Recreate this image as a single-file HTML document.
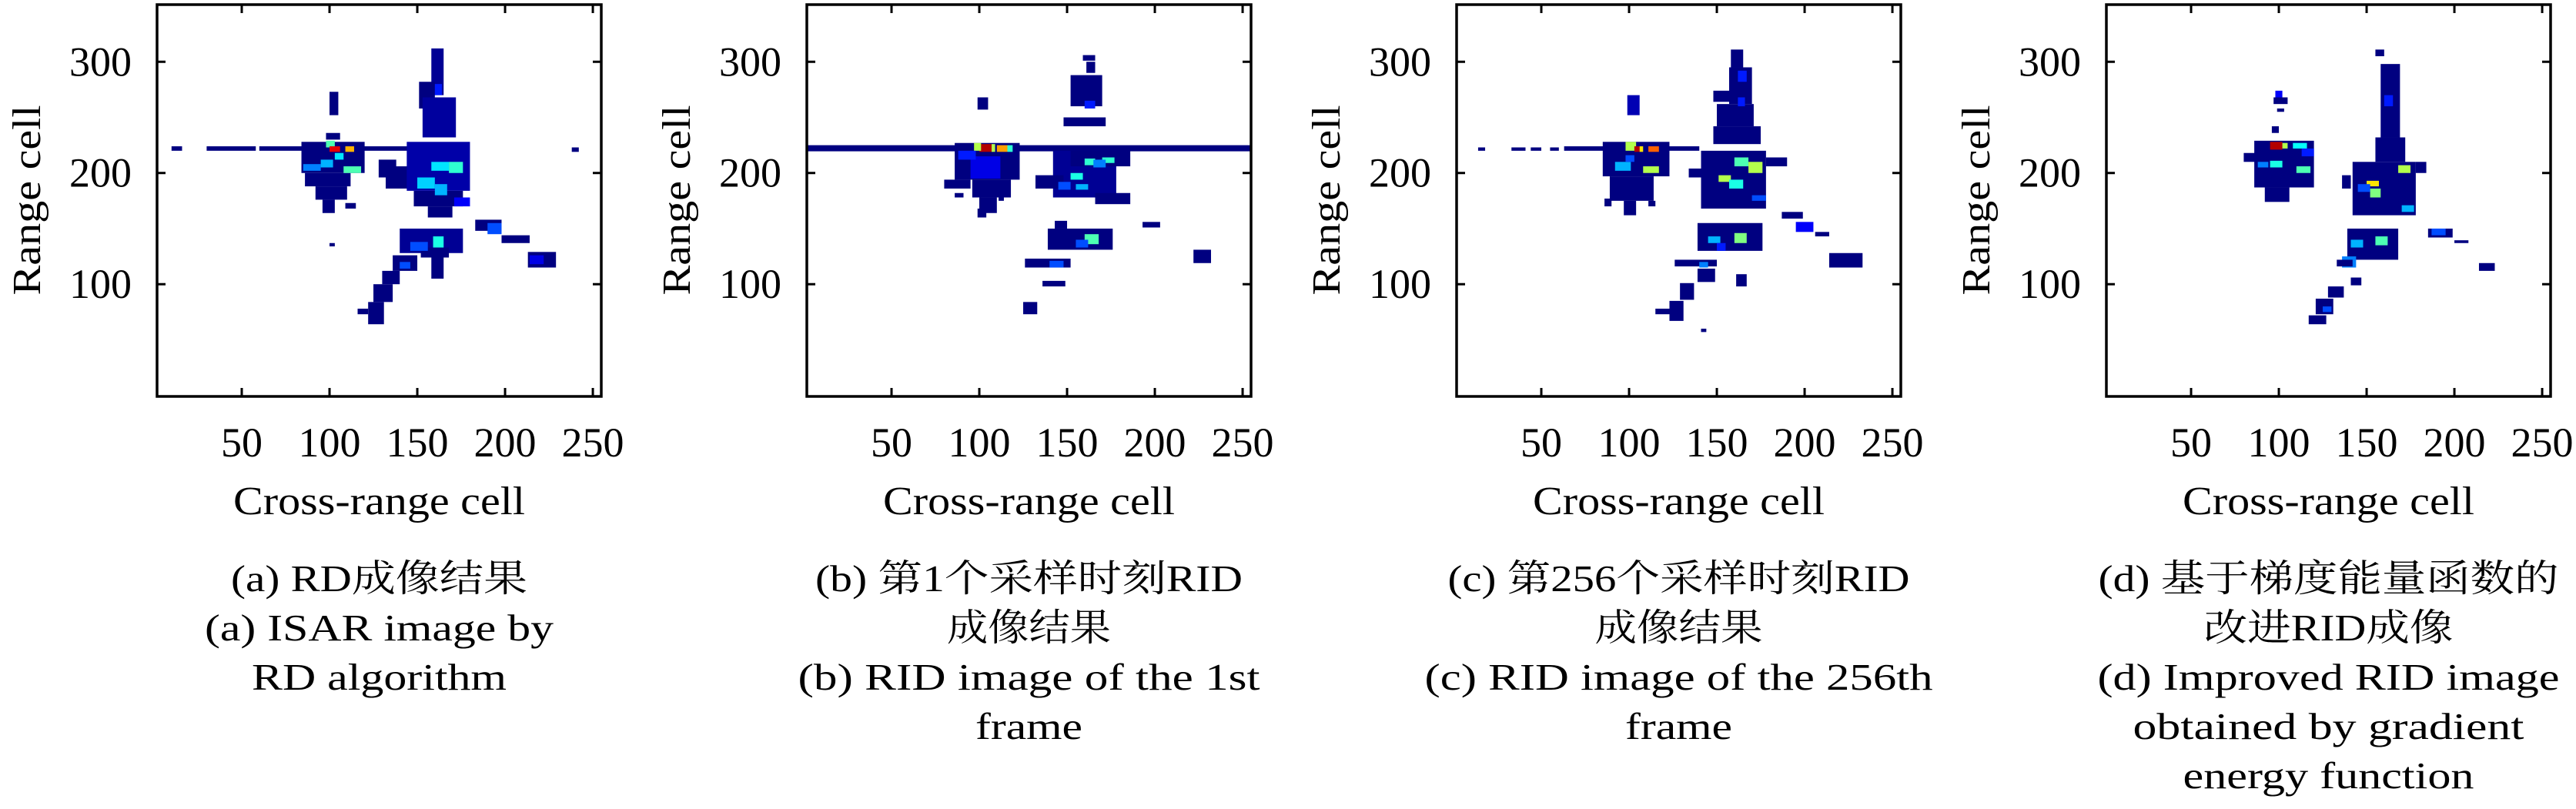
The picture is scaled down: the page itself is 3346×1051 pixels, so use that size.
<!DOCTYPE html>
<html><head><meta charset="utf-8"><style>
html,body{margin:0;padding:0;background:#fff;}
svg{display:block;}
text{font-family:"Liberation Serif","Noto Serif CJK SC","Noto Sans CJK SC",serif;fill:#000;}
</style></head><body>
<svg id="fig" width="3346" height="1051" viewBox="0 0 3346 1051" xmlns="http://www.w3.org/2000/svg"></svg>
<script>
// ---- chart data (data coordinates: [xMin, xMax, yMin, yMax, intensity 0..1]) ----
const xTicks = [50, 100, 150, 200, 250];
const yTicks = [100, 200, 300];
const xDomain = [1.75, 254.8];
const yDomain = [-0.9, 351.4];
const xAxisTitle = "Cross-range cell";
const yAxisTitle = "Range cell";

const cellsA = [
[10,16,220,224,0],[30,58,220,224,0],[60,150,220,224,0],
[84,120,200,228,0],[86,112,188,200,0],[92,110,176,188,0],[96,103,164,176,0],[109,115,168,173,0],[100,105,252,273,0],[98,106,230,236,0],
[128,138,196,212,0],[132,146,186,206,0],
[98,103,223,229,0.45],[100,106,219,224,0.9],[109,114,219,224,0.7],[103,108,212,218,0.35],[108,118,200,206,0.45],[85,95,202,208,0.25],[95,102,205,212,0.3],
[158,165,270,312,0.02],[151,160,258,282,0],[153,172,232,268,0.03],[144,180,184,228,0.04],[148,176,170,184,0],[156,170,160,170,0],
[158,168,202,210,0.35],[168,176,200,210,0.42],[150,160,186,196,0.33],[160,167,180,190,0.3],[160,164,270,280,0.15],[171,180,170,178,0.12],
[140,176,128,150,0.02],[152,168,124,133,0],[159,165,133,143,0.4],[146,156,130,138,0.2],[158,165,105,127,0],
[136,150,112,126,0],[130,140,100,112,0],[125,136,84,100,0],[122,131,64,84,0],[116,122,73,78,0],[140,146,114,120,0.2],
[183,198,148,158,0],[190,198,145,155,0.2],[198,214,137,144,0],[213,229,115,129,0],[214,222,118,126,0.1],
[238,242,219,223,0],[100,103,134,137,0]
];
const cellsB = [
[2,255,219.5,225,0],
[86,123,194,227,0],[80,95,186,194,0],[96,118,178,194,0],[100,110,164,178,0],
[100,107,219,226,0.95],[97,101,220,227,0.55],[107,109,219,226,0.55],[110,116,219,225,0.72],[116,119,219,225,0.42],[95,112,195,215,0.1],[88,98,212,220,0.15],
[99,105,257,268,0],[99,104,160,168,0],[111,114,175,182,0],[86,91,178,182,0],
[142,178,178,220,0.02],[132,148,186,198,0],[152,186,206,220,0],[166,186,172,182,0],
[160,166,207,213,0.42],[170,177,209,214,0.42],[165,172,205,212,0.25],[152,159,194,200,0.4],[155,162,185,190,0.3],[145,152,185,192,0.2],
[148,172,242,250,0],[152,170,260,288,0],[161,166,290,300,0],[159,166,301,306,0],[160,166,258,265,0.15],
[139,176,131,150,0],[143,150,150,157,0],[160,168,136,145,0.45],[155,162,133,140,0.2],
[126,152,115,123,0],[140,148,115,121,0.2],[136,149,98,103,0],[125,133,73,84,0],[193,203,151,156,0],[222,232,119,131,0]
];
const cellsC = [
[14,18,220,223,0],[33,41,220,223,0],[44,50,220,223,0],[55,60,220,223,0],[63,93,220,224,0],[120,140,220,224,0],
[85,123,197,228,0],[89,114,175,197,0],[86,90,170,177,0],[97,104,162,175,0],[111,115,170,175,0],
[98,104,220,228,0.55],[103,106,219,224,0.95],[106,108,219,224,0.65],[111,117,219,224,0.78],[108,117,200,206,0.55],[92,101,202,210,0.3],[98,103,210,216,0.2],
[99,106,252,270,0.05],
[158,165,295,311,0],[157,170,262,295,0],[148,158,264,274,0],[150,171,242,262,0],[148,175,226,242,0],[162,167,282,292,0.15],[162,166,260,268,0.15],
[141,178,168,220,0],[134,144,196,204,0],[178,190,206,214,0],[160,168,206,214,0.45],[168,176,200,210,0.55],[151,158,192,198,0.55],[157,165,186,194,0.4],[170,178,175,180,0.2],
[139,176,130,155,0],[160,167,137,146,0.5],[145,152,137,143,0.3],[150,155,130,137,0.15],
[126,150,116,122,0],[139,149,102,114,0],[161,167,98,109,0],[129,137,86,101,0],[123,131,67,85,0],[115,124,73,78,0],[140,145,115,120,0.25],
[187,199,159,165,0],[195,205,147,156,0.12],[206,214,143,147,0],[214,233,115,128,0],[141,144,57,60,0]
];
const cellsD = [
[86,120,187,229,0],[80,90,210,218,0],[92,106,174,187,0],[98,102,264,274,0.12],[97,105,262,268,0],[99,103,255,258,0],[96,100,236,242,0],
[95,102,221,228,0.95],[102,105,222,227,0.55],[108,116,222,227,0.38],[95,102,205,211,0.4],[110,118,200,206,0.45],[88,94,205,210,0.25],[113,120,215,222,0.15],
[155,160,305,311,0],[158,169,232,298,0],[155,172,210,232,0],[160,165,260,270,0.15],
[142,178,162,210,0],[136,141,186,198,0],[178,184,200,210,0],[168,175,200,207,0.55],[150,157,188,193,0.65],[152,158,178,186,0.5],[145,152,183,190,0.2],[170,177,165,171,0.3],
[139,168,122,150,0],[155,162,135,143,0.45],[141,148,133,140,0.3],[136,144,115,125,0.25],[133,142,116,122,0],
[141,147,99,106,0],[128,137,88,98,0],[121,131,73,87,0],[117,127,64,72,0],[125,130,75,80,0.2],
[185,199,142,150,0],[187,195,144,150,0.2],[200,208,137,139.5,0],[214,223,112,119,0]
];
const panelCells = [cellsA, cellsB, cellsC, cellsD];
const panelIds = ["a", "b", "c", "d"];
const captions = [
  [["(a) RD成像结果",385],["(a) ISAR image by",453],["RD algorithm",331]],
  [["(b) 第1个采样时刻RID",555],["成像结果",213],["(b) RID image of the 1st",600],["frame",139]],
  [["(c) 第256个采样时刻RID",600],["成像结果",218],["(c) RID image of the 256th",660],["frame",139]],
  [["(d) 基于梯度能量函数的",598],["改进RID成像",324],["(d) Improved RID image",600],["obtained by gradient",508],["energy function",378]]
];

// ---- layout ----
const NS = "http://www.w3.org/2000/svg";
const svg = document.getElementById("fig");
const panelLeft = [204, 1048, 1892, 2736];
const plotW = 577, plotTop = 6, plotH = 509;
const capBase = [768, 832, 896, 960, 1024];

function jet(v){
  const c = t => Math.max(0, Math.min(1, t));
  const r = c(1.5 - Math.abs(4*v - 3)), g = c(1.5 - Math.abs(4*v - 2)), b = c(1.5 - Math.abs(4*v - 1));
  return "rgb(" + Math.round(r*255) + "," + Math.round(g*255) + "," + Math.round(b*255) + ")";
}
function mk(tag, attrs, parent){
  const e = document.createElementNS(NS, tag);
  for (const k in attrs) e.setAttribute(k, attrs[k]);
  parent.appendChild(e);
  return e;
}

panelCells.forEach((cells, p) => {
  const L = panelLeft[p];
  const sx = x => L + (x - xDomain[0]) / (xDomain[1] - xDomain[0]) * plotW;
  const sy = y => plotTop + (yDomain[1] - y) / (yDomain[1] - yDomain[0]) * plotH;
  const g = mk("g", {}, svg);
  
  

  const hm = mk("g", {}, g);
  
  
  cells.forEach(c => {
    const r = mk("rect", {x: sx(c[0]), y: sy(c[3]), width: sx(c[1]) - sx(c[0]), height: sy(c[2]) - sy(c[3]), fill: jet(c[4])}, hm);
    
    
  });

  const frame = mk("rect", {x: L, y: plotTop, width: plotW, height: plotH, fill: "none", stroke: "#000", "stroke-width": 3.5}, g);
  
  

  xTicks.forEach(t => {
    const x = sx(t);
    mk("line", {x1: x, x2: x, y1: plotTop + plotH, y2: plotTop + plotH - 11, stroke: "#000", "stroke-width": 3}, g);
    mk("line", {x1: x, x2: x, y1: plotTop, y2: plotTop + 11, stroke: "#000", "stroke-width": 3}, g);
    const tx = mk("text", {x: x, y: 593, "font-size": 54, "text-anchor": "middle"}, g);
    tx.textContent = t;
    
    
  });
  yTicks.forEach(t => {
    const y = sy(t);
    mk("line", {x1: L, x2: L + 11, y1: y, y2: y, stroke: "#000", "stroke-width": 3}, g);
    mk("line", {x1: L + plotW, x2: L + plotW - 11, y1: y, y2: y, stroke: "#000", "stroke-width": 3}, g);
    const ty = mk("text", {x: L - 33, y: y + 18, "font-size": 54, "text-anchor": "end"}, g);
    ty.textContent = t;
    
    
  });

  const xt = mk("text", {x: L + plotW/2, y: 668, "font-size": 52, "text-anchor": "middle", textLength: 379, lengthAdjust: "spacingAndGlyphs"}, g);
  xt.textContent = xAxisTitle;
  
  

  const yt = mk("text", {transform: "translate(" + (L - 152) + ",260) rotate(-90)", "font-size": 52, "text-anchor": "middle", textLength: 247, lengthAdjust: "spacingAndGlyphs"}, g);
  yt.textContent = yAxisTitle;
  
  

  captions[p].forEach((ln, i) => {
    const ct = mk("text", {x: L + plotW/2, y: capBase[i], "font-size": 49, "text-anchor": "middle", textLength: ln[1], lengthAdjust: "spacingAndGlyphs"}, g);
    ct.textContent = ln[0];
    
    
  });
});
</script>
</body></html>
